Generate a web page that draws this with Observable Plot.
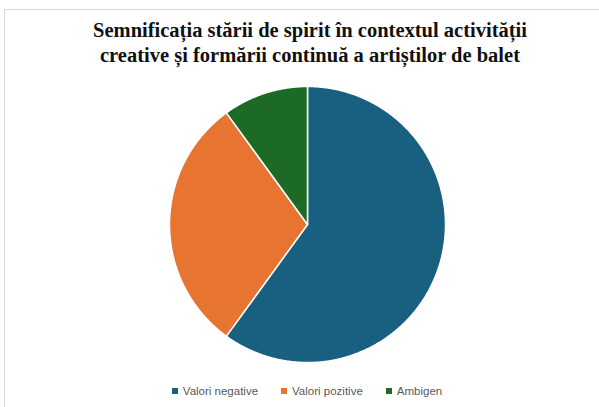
<!DOCTYPE html>
<html>
<head>
<meta charset="utf-8">
<script src="https://cdn.jsdelivr.net/npm/d3@7"></script>
<script src="https://cdn.jsdelivr.net/npm/@observablehq/plot@0.6"></script>
<style>
  html, body { margin: 0; padding: 0; background: #fff; }
  #wrap { position: relative; width: 599px; height: 407px; overflow: hidden; background: #fff; }
  #frame { position: absolute; left: 4px; top: 9px; width: 700px; height: 500px; border-top: 1px solid #d9d9d9; border-left: 1px solid #d9d9d9; }
  #title { position: absolute; left: 10px; top: 18px; width: 600px; text-align: center;
    font-family: "Liberation Serif", "Times New Roman", serif; font-weight: bold; font-size: 20.5px; line-height: 25px; color: #111; }
  #chart { position: absolute; left: 0; top: 76px; }
  #legend { position: absolute; left: 0; top: 385px; width: 614px; display: flex; justify-content: center; gap: 23px;
    font-family: "Liberation Sans", Arial, sans-serif; font-size: 11.5px; color: #595959; }
  .item { display: flex; align-items: center; gap: 5px; }
  .sw { width: 6px; height: 6px; display: inline-block; }
</style>
</head>
<body>
<div id="wrap">
  <div id="frame"></div>
  <div id="title">Semnificația stării de spirit în contextul activității<br>creative și formării continuă a artiștilor de balet</div>
  <div id="chart"></div>
  <div id="legend"></div>
</div>
<script>
const categories = ["Valori negative", "Valori pozitive", "Ambigen"];
const values = [60, 30, 10];
const colors = ["#185f80", "#e87431", "#1c6a26"];

const pie = d3.pie().sort(null).value((d, i) => values[i]);
const arcs = pie(categories);
const pts = [];
arcs.forEach((a, i) => {
  const name = categories[i];
  pts.push({name, x: 0, y: 0});
  const n = Math.max(2, Math.ceil((a.endAngle - a.startAngle) / 0.01));
  for (let k = 0; k <= n; k++) {
    const t = a.startAngle + (a.endAngle - a.startAngle) * k / n;
    pts.push({name, x: Math.sin(t), y: Math.cos(t)});
  }
  pts.push({name, x: 0, y: 0});
});

const W = 599, H = 300, cx = 307, cy = 148, r = 138;
const plot = Plot.plot({
  width: W,
  height: H,
  marginLeft: cx - r,
  marginRight: W - (cx + r),
  marginTop: cy - r,
  marginBottom: H - (cy + r),
  x: {domain: [-1, 1], axis: null},
  y: {domain: [-1, 1], axis: null},
  color: {domain: categories, range: colors},
  marks: [
    Plot.line(pts, {x: "x", y: "y", z: "name", fill: "name", stroke: "#fff", strokeWidth: 1.5, strokeLinejoin: "miter", curve: "linear"})
  ]
});
document.getElementById("chart").appendChild(plot);

const legend = document.getElementById("legend");
categories.forEach((c, i) => {
  const it = document.createElement("div");
  it.className = "item";
  it.innerHTML = `<span class="sw" style="background:${colors[i]}"></span><span>${c}</span>`;
  legend.appendChild(it);
});
</script>
</body>
</html>
